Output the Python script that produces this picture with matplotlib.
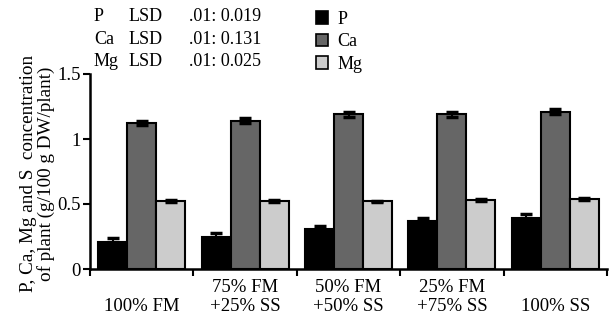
import numpy as np
import matplotlib.pyplot as plt
from matplotlib.patches import Patch

plt.rcParams['font.family'] = ['Liberation Serif', 'DejaVu Serif']
plt.rcParams['font.size'] = 13

# Data
treatments = ['\n100% FM', '75% FM\n+25% SS', '50% FM\n+50% SS',
              '25% FM\n+75% SS', '\n100% SS']
nutrients = ['P', 'Ca', 'Mg']
p_vals = [0.21, 0.25, 0.31, 0.37, 0.39]
ca_vals = [1.12, 1.14, 1.19, 1.19, 1.21]
mg_vals = [0.52, 0.52, 0.52, 0.53, 0.54]
p_err = [0.03, 0.025, 0.02, 0.025, 0.03]
ca_err = [0.015, 0.02, 0.02, 0.02, 0.02]
mg_err = [0.008, 0.008, 0.006, 0.006, 0.008]
lsd_rows = [('P', '.01: 0.019'), ('Ca', '.01: 0.131'), ('Mg', '.01: 0.025')]

colors = ['#000000', '#666666', '#cccccc']

fig = plt.figure(figsize=(6.1, 3.22), dpi=100)
ax = fig.add_axes([90 / 610, 1 - 269 / 322, (607 - 90) / 610, (269 - 74) / 322])

x = np.arange(len(treatments)) + 0.5
width = 0.28
series = [(p_vals, p_err), (ca_vals, ca_err), (mg_vals, mg_err)]
for i, (vals, errs) in enumerate(series):
    pos = x + (i - 1) * width
    ax.bar(pos, vals, width, color=colors[i], edgecolor='black', linewidth=1.5,
           zorder=2)
    ax.errorbar(pos, vals, yerr=errs, fmt='none', ecolor='black', elinewidth=1.5,
                capsize=4, capthick=2.5, zorder=3)

ax.set_xlim(0, len(treatments))
ax.set_ylim(0, 1.5)
ax.set_yticks([0, 0.5, 1, 1.5])
ax.set_yticklabels(['0', '0.5', '1', '1.5'])
ax.set_xticks(np.arange(len(treatments) + 1))
ax.set_xticklabels([])
ax.set_xticks(x, treatments, minor=True)
ax.tick_params(axis='x', which='minor', length=0, pad=7, labelsize=13.5)
ax.tick_params(axis='x', which='major', length=5, width=1.5, direction='out')
ax.tick_params(axis='y', length=5, width=1.5, pad=1.5, direction='out',
               labelsize=13.5)

for s in ['top', 'right']:
    ax.spines[s].set_visible(False)
for s in ['left', 'bottom']:
    ax.spines[s].set_linewidth(1.8)

ax.set_ylabel('P, Ca, Mg and S  concentration\nof plant (g/100 g DW/plant)',
              linespacing=1.0, fontsize=13.8)
ax.yaxis.set_label_coords(-0.068, 0.49)

# LSD annotation block
for j, (name, val) in enumerate(lsd_rows):
    yy = 1 - (21 + j * 22.5) / 322
    fig.text(94 / 610, yy, name, va='baseline')
    fig.text(129 / 610, yy, 'LSD', va='baseline')
    fig.text(189 / 610, yy, val, va='baseline')

handles = [Patch(facecolor=c, edgecolor='black', linewidth=1.2) for c in colors]
fig.legend(handles, nutrients, loc='upper left', bbox_to_anchor=(305 / 610, 1.0),
           frameon=False, handlelength=0.7, handleheight=0.7, labelspacing=0.3,
           handletextpad=0.5, borderaxespad=0.2)

fig.savefig('out.png', dpi=100)
